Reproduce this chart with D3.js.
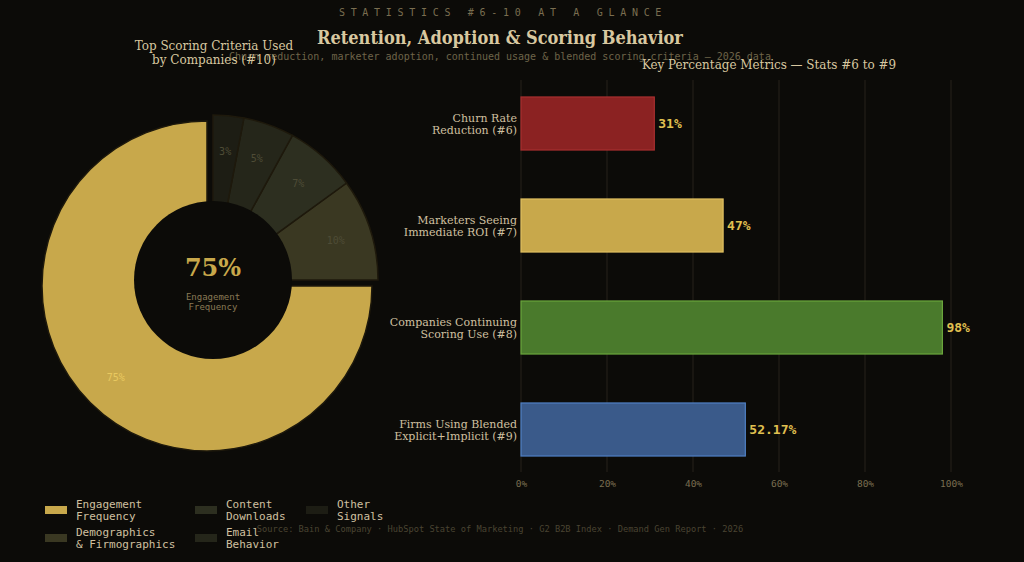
<!DOCTYPE html>
<html>
<head>
<meta charset="utf-8">
<script src="https://cdn.jsdelivr.net/npm/d3@7"></script>
<style>
  body { margin: 0; background: #0c0b08; }
  svg { display: block; }
</style>
</head>
<body>
<div id="chart"></div>
<script>
// donut data (#10)
const criteria = ["Engagement\nFrequency", "Demographics\n& Firmographics", "Content\nDownloads", "Email\nBehavior", "Other\nSignals"];
const criteriaValues = [75, 10, 7, 5, 3];
const criteriaColors = ["#c8a84b", "#3a3822", "#2d2f20", "#25261a", "#1d1d14"];

// bar data (#6 - #9)
const metrics = ["Churn Rate\nReduction (#6)", "Marketers Seeing\nImmediate ROI (#7)", "Companies Continuing\nScoring Use (#8)", "Firms Using Blended\nExplicit+Implicit (#9)"];
const metricValues = [31, 47, 98, 52.17];
const metricLabels = ["31%", "47%", "98%", "52.17%"];
const metricFill = ["#8b2222", "#c8a84b", "#4a7a2c", "#3a5a8a"];
const metricStroke = ["#a83030", "#e0c060", "#6aa63c", "#5080c4"];
const xTicks = [0, 20, 40, 60, 80, 100];

const W = 1024, H = 562;
const serif = "'DejaVu Serif', serif";
const mono = "'DejaVu Sans Mono', monospace";

const svg = d3.select("#chart").append("svg")
    .attr("width", W).attr("height", H);

svg.append("rect").attr("width", W).attr("height", H).attr("fill", "#0c0b08");

// headers
svg.append("text")
    .attr("x", 503).attr("y", 16)
    .attr("text-anchor", "middle")
    .attr("font-family", mono).attr("font-size", "10px")
    .attr("letter-spacing", "5.7px")
    .attr("fill", "#7a6e50")
    .text("STATISTICS #6-10 AT A GLANCE");

svg.append("text")
    .attr("x", 500).attr("y", 44)
    .attr("text-anchor", "middle")
    .attr("font-family", serif).attr("font-size", "18px")
    .attr("font-weight", "bold").attr("font-stretch", "condensed")
    .attr("fill", "#d8c8a0")
    .text("Retention, Adoption & Scoring Behavior");

svg.append("text")
    .attr("x", 500).attr("y", 60)
    .attr("text-anchor", "middle")
    .attr("font-family", mono).attr("font-size", "10px")
    .attr("fill", "#6e6448")
    .text("Churn reduction, marketer adoption, continued usage & blended scoring criteria — 2026 data");

// ---------- donut ----------
const cx = 213, cy = 280, R = 165, hole = 79;

svg.append("text")
    .attr("x", 214).attr("y", 50)
    .attr("text-anchor", "middle")
    .attr("font-family", serif).attr("font-size", "13.3px").attr("font-stretch", "condensed")
    .attr("fill", "#d8c8a0")
    .selectAll("tspan")
    .data(["Top Scoring Criteria Used", "by Companies (#10)"])
    .enter().append("tspan")
    .attr("x", 214).attr("dy", (d, i) => i ? 14 : 0)
    .text(d => d);

const pie = d3.pie().sort(null)
    .startAngle(0).endAngle(-2 * Math.PI);
const arcs = pie(criteriaValues);
const arc = d3.arc().innerRadius(0).outerRadius(R);
const labelArc = d3.arc().innerRadius(129).outerRadius(129);

const dg = svg.append("g").attr("transform", `translate(${cx},${cy})`);

dg.selectAll(".slice")
    .data(arcs)
    .enter().append("path")
    .attr("class", "slice")
    .attr("d", arc)
    .attr("transform", function(d, i) {
        if (i != 0) return null;
        const [x, y] = labelArc.centroid(d);
        const k = 8.5 / Math.hypot(x, y);
        return `translate(${x * k},${y * k})`;
    })
    .attr("fill", (d, i) => criteriaColors[i])
    .attr("stroke", "#1e190c")
    .attr("stroke-width", 1.5);

dg.append("circle").attr("r", hole).attr("fill", "#0c0b08");

dg.selectAll(".plabel")
    .data(arcs)
    .enter().append("text")
    .attr("class", "plabel")
    .attr("transform", function(d, i) {
        let [x, y] = labelArc.centroid(d);
        if (i == 0) { const k = 1 + 8.5 / Math.hypot(x, y); x *= k; y *= k; }
        return `translate(${x},${y})`;
    })
    .attr("text-anchor", "middle").attr("dy", "0.35em")
    .attr("font-family", mono).attr("font-size", "10px")
    .attr("fill", (d, i) => i == 0 ? "#e8c860" : "#4e4c36")
    .text(d => d.data + "%");

dg.append("text")
    .attr("y", -4).attr("text-anchor", "middle")
    .attr("font-family", serif).attr("font-size", "24px").attr("font-weight", "bold")
    .attr("fill", "#c8a84b")
    .text("75%");

dg.append("text")
    .attr("y", 20).attr("text-anchor", "middle")
    .attr("font-family", mono).attr("font-size", "9px")
    .attr("fill", "#8a7a55")
    .selectAll("tspan")
    .data(["Engagement", "Frequency"])
    .enter().append("tspan")
    .attr("x", 0).attr("dy", (d, i) => i ? 10 : 0)
    .text(d => d);

// legend
const legendPos = [[45, 510], [45, 538], [195, 510], [195, 538], [306, 510]];
const lg = svg.selectAll(".legend")
    .data(criteria)
    .enter().append("g")
    .attr("class", "legend")
    .attr("transform", (d, i) => `translate(${legendPos[i][0]},${legendPos[i][1]})`);

lg.append("rect")
    .attr("x", 0).attr("y", -4).attr("width", 22).attr("height", 8)
    .attr("fill", (d, i) => criteriaColors[i]);

lg.append("text")
    .attr("font-family", mono).attr("font-size", "11px")
    .attr("fill", "#d0c0a0")
    .selectAll("tspan")
    .data(d => d.split("\n"))
    .enter().append("tspan")
    .attr("x", 31).attr("dy", (d, i) => i ? 12 : -2)
    .text(d => d);

// ---------- bars ----------
const x = d3.scaleLinear().domain([0, 100]).range([521, 951]);
const y = d3.scaleBand().domain(metrics).range([72.5, 480.5])
    .paddingInner(0.48).paddingOuter(0.24);

svg.append("text")
    .attr("x", 769).attr("y", 69)
    .attr("text-anchor", "middle")
    .attr("font-family", serif).attr("font-size", "13.3px").attr("font-stretch", "condensed")
    .attr("fill", "#d8c8a0")
    .text("Key Percentage Metrics — Stats #6 to #9");

svg.append("g")
    .selectAll("line")
    .data(xTicks)
    .enter().append("line")
    .attr("x1", d => x(d)).attr("x2", d => x(d))
    .attr("y1", 80).attr("y2", 472)
    .attr("stroke", "#26231a").attr("stroke-width", 1);

const xAxis = svg.append("g")
    .attr("transform", "translate(0,472)")
    .call(d3.axisBottom(x).tickValues(xTicks).tickFormat(d => d + "%").tickSize(0).tickPadding(8));
xAxis.select(".domain").remove();
xAxis.selectAll("text")
    .attr("font-family", mono).attr("font-size", "9.5px")
    .attr("fill", "#7a6e50");

svg.selectAll(".bar")
    .data(metrics)
    .enter().append("rect")
    .attr("class", "bar")
    .attr("x", x(0))
    .attr("y", d => y(d))
    .attr("width", (d, i) => x(metricValues[i]) - x(0))
    .attr("height", y.bandwidth())
    .attr("fill", (d, i) => metricFill[i])
    .attr("stroke", (d, i) => metricStroke[i])
    .attr("stroke-width", 1.2);

svg.selectAll(".vlabel")
    .data(metrics)
    .enter().append("text")
    .attr("class", "vlabel")
    .attr("x", (d, i) => x(metricValues[i]) + 4)
    .attr("y", d => y(d) + y.bandwidth() / 2)
    .attr("dy", "0.35em")
    .attr("font-family", mono).attr("font-size", "13px").attr("font-weight", "bold")
    .attr("fill", "#e0c050")
    .text((d, i) => metricLabels[i]);

svg.selectAll(".ylabel")
    .data(metrics)
    .enter().append("text")
    .attr("class", "ylabel")
    .attr("text-anchor", "end")
    .attr("font-family", serif).attr("font-size", "11px")
    .attr("fill", "#d0c0a0")
    .attr("transform", d => `translate(517,${y(d) + y.bandwidth() / 2})`)
    .selectAll("tspan")
    .data(d => d.split("\n"))
    .enter().append("tspan")
    .attr("x", 0).attr("dy", (d, i) => i ? 12 : -2)
    .text(d => d);

// source
svg.append("text")
    .attr("x", 500).attr("y", 532)
    .attr("text-anchor", "middle")
    .attr("font-family", mono).attr("font-size", "8.7px")
    .attr("fill", "#4a4432")
    .text("Source: Bain & Company · HubSpot State of Marketing · G2 B2B Index · Demand Gen Report · 2026");
</script>
</body>
</html>
